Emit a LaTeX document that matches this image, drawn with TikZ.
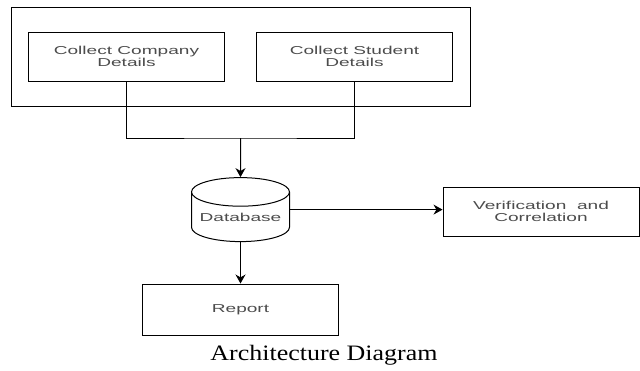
\documentclass[tikz,border=0pt]{standalone}
\usepackage{fontspec}
\newfontfamily\boxfont[FakeStretch=1.66]{Liberation Sans}
\newfontfamily\captionfont[FakeStretch=1.18]{Liberation Serif}
\usetikzlibrary{arrows.meta}
\usetikzlibrary{fit}
\usetikzlibrary{shapes.geometric}
\usetikzlibrary{positioning}

\definecolor{boxtext}{gray}{0.3}

\begin{document}
\begin{tikzpicture}[x=1pt,y=-1pt,
    stage/.style={draw,rectangle,line width=1pt,minimum width=196pt,minimum height=49pt,
      inner sep=0pt,align=center,text=boxtext,font=\boxfont\fontsize{11.5pt}{12pt}\selectfont},
    store/.style={draw,cylinder,shape border rotate=90,aspect=0.35,minimum width=98pt,
      minimum height=64pt,inner sep=0pt,line width=1pt,text=boxtext,
      font=\boxfont\fontsize{11.5pt}{12pt}\selectfont}]

  \useasboundingbox (0,0) rectangle (640,370);

  \node [stage] (company) at (126.5,56.5) {Collect Company\\Details};
  \node [stage] (student) at (354.5,56.5) {Collect Student\\Details};

  \node [draw,rectangle,line width=1pt,inner xsep=17pt,inner ysep=24.5pt,fit=(company) (student)] (collect) {};

  \coordinate (merge) at (240.5,138);

  \node [store] (db) at (240.5,217) {Database};
  \node [stage] (verify) at (541,211.5) {Verification\ \ and\\Correlation};
  \node [stage,minimum height=51pt] (report) at (240.5,309.5) {Report};

  \node [font=\captionfont\fontsize{22pt}{22pt}\selectfont,anchor=base] (caption) at (324,360) {Architecture Diagram};

  \path [draw,line width=1pt]
    (company.south) |- (merge) -| (student.south);

  \path [line width=1pt,->,>={Stealth[length=9pt,width=10pt]}]
    (merge) edge (db.north)
    (db.shape center -| db.east) edge (db.shape center -| verify.west)
    (db.south) edge (report.north);

\end{tikzpicture}
\end{document}
